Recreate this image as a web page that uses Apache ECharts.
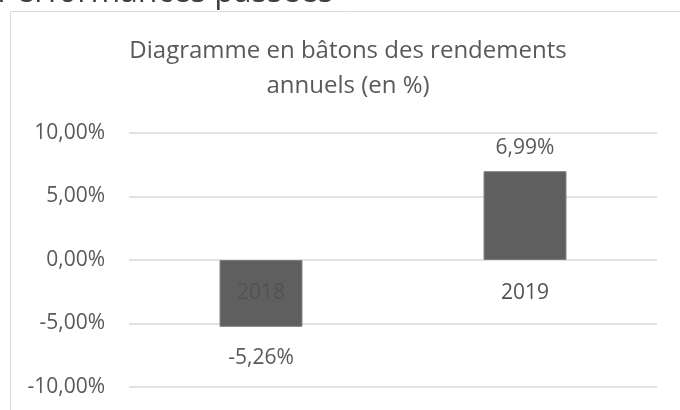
<!DOCTYPE html>
<html><head><meta charset="utf-8">
<script src="https://cdn.jsdelivr.net/npm/echarts@6/dist/echarts.min.js"></script>
<style>html,body{margin:0;padding:0;background:#fff}#c{width:680px;height:410px}</style>
</head><body><div id="c"></div>
<script>
const categories = ['2018', '2019'];
const rendements = [-5.26, 6.99];
const yTicks = [-10, -5, 0, 5, 10];
const chartTitle = 'Diagramme en bâtons des rendements\nannuels (en %)';
const pageHeading = 'Performances passées';

const fmt = v => v.toFixed(2).replace('.', ',') + '%';
const FONT = 'Open Sans';
const chart = echarts.init(document.getElementById('c'), null, {renderer: 'canvas'});
chart.setOption({
  animation: false,
  backgroundColor: '#fff',
  graphic: [
    {type: 'rect', shape: {x: 10.5, y: 11.5, width: 700, height: 420}, style: {fill: 'none', stroke: '#d9d9d9', lineWidth: 1}, z: 0},
    {type: 'text', x: -3, y: 9, style: {text: pageHeading, font: '32px "' + FONT + '"', fill: '#404040', verticalAlign: 'bottom'}},
    {type: 'text', x: 348, y: 34, style: {text: chartTitle, font: '24px "' + FONT + '"', fill: '#595959', align: 'center', lineHeight: 35}}
  ],
  grid: {left: 129, right: 23, top: 133, bottom: 23, outerBoundsMode: 'none'},
  xAxis: {
    type: 'category', data: categories, z: 5, position: 'bottom',
    axisLine: {show: false}, axisTick: {show: false},
    axisLabel: {color: '#525252', fontFamily: FONT, fontSize: 21, margin: 23}
  },
  yAxis: {
    type: 'value', min: yTicks[0], max: yTicks[yTicks.length - 1], interval: 5,
    axisLine: {show: false}, axisTick: {show: false},
    splitLine: {lineStyle: {color: '#d9d9d9', width: 1.5}},
    axisLabel: {color: '#595959', fontFamily: FONT, fontSize: 21, margin: 24, formatter: v => fmt(v)}
  },
  series: [{
    type: 'bar', barWidth: '31.4%',
    itemStyle: {color: '#5f5f5f', borderColor: '#7a7a7a', borderWidth: 1},
    label: {show: true, color: '#595959', fontFamily: FONT, fontSize: 21, formatter: p => fmt(p.value)},
    data: rendements.map(v => ({value: v, label: {position: v < 0 ? 'bottom' : 'top', distance: v < 0 ? 21 : 13}}))
  }]
});
// place the category axis on the zero line of the value axis
const zeroY = chart.convertToPixel({yAxisIndex: 0}, 0);
const bottomY = chart.convertToPixel({yAxisIndex: 0}, yTicks[0]);
chart.setOption({xAxis: {offset: -(bottomY - zeroY)}});
</script></body></html>
